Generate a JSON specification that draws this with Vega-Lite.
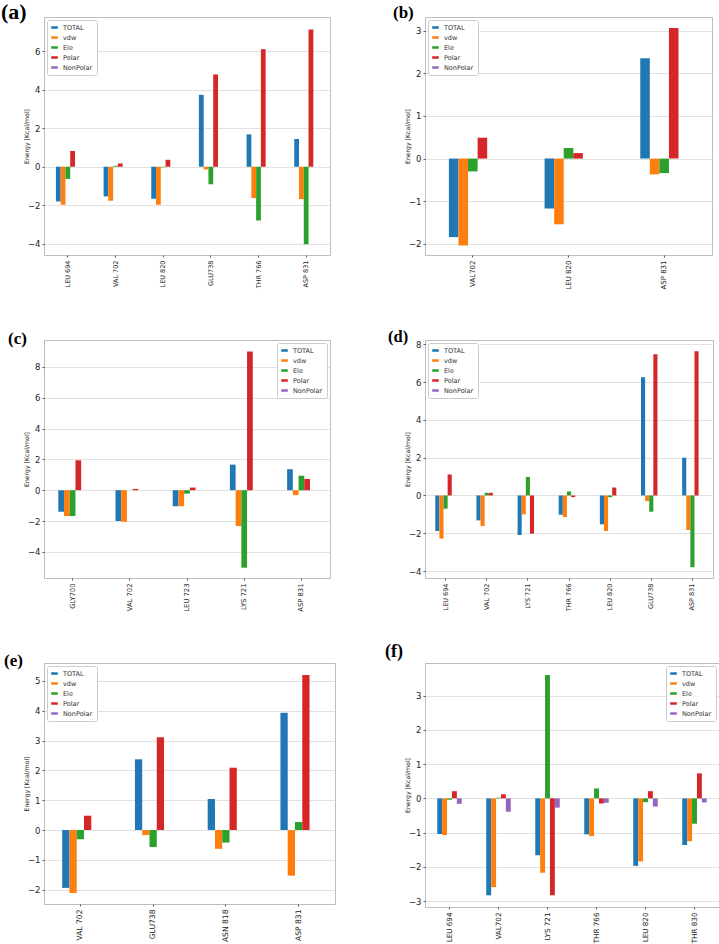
{
  "$schema": "https://vega.github.io/schema/vega-lite/v6.json",
  "background": "white",
  "padding": 0,
  "datasets": {
    "a": [
      {"residue": "LEU 694", "term": "TOTAL", "energy": -1.80},
      {"residue": "LEU 694", "term": "vdw", "energy": -1.97},
      {"residue": "LEU 694", "term": "Ele", "energy": -0.63},
      {"residue": "LEU 694", "term": "Polar", "energy": 0.82},
      {"residue": "LEU 694", "term": "NonPolar", "energy": 0},
      {"residue": "VAL 702", "term": "TOTAL", "energy": -1.54},
      {"residue": "VAL 702", "term": "vdw", "energy": -1.76},
      {"residue": "VAL 702", "term": "Ele", "energy": 0.05},
      {"residue": "VAL 702", "term": "Polar", "energy": 0.17},
      {"residue": "VAL 702", "term": "NonPolar", "energy": 0},
      {"residue": "LEU  820", "term": "TOTAL", "energy": -1.66},
      {"residue": "LEU  820", "term": "vdw", "energy": -1.97},
      {"residue": "LEU  820", "term": "Ele", "energy": -0.03},
      {"residue": "LEU  820", "term": "Polar", "energy": 0.36},
      {"residue": "LEU  820", "term": "NonPolar", "energy": 0},
      {"residue": "GLU738", "term": "TOTAL", "energy": 3.73},
      {"residue": "GLU738", "term": "vdw", "energy": -0.14},
      {"residue": "GLU738", "term": "Ele", "energy": -0.91},
      {"residue": "GLU738", "term": "Polar", "energy": 4.79},
      {"residue": "GLU738", "term": "NonPolar", "energy": 0},
      {"residue": "THR 766", "term": "TOTAL", "energy": 1.68},
      {"residue": "THR 766", "term": "vdw", "energy": -1.63},
      {"residue": "THR 766", "term": "Ele", "energy": -2.79},
      {"residue": "THR 766", "term": "Polar", "energy": 6.10},
      {"residue": "THR 766", "term": "NonPolar", "energy": 0},
      {"residue": "ASP  831", "term": "TOTAL", "energy": 1.44},
      {"residue": "ASP  831", "term": "vdw", "energy": -1.68},
      {"residue": "ASP  831", "term": "Ele", "energy": -4.02},
      {"residue": "ASP  831", "term": "Polar", "energy": 7.12},
      {"residue": "ASP  831", "term": "NonPolar", "energy": 0}
    ],
    "b": [
      {"residue": "VAL702", "term": "TOTAL", "energy": -1.84},
      {"residue": "VAL702", "term": "vdw", "energy": -2.04},
      {"residue": "VAL702", "term": "Ele", "energy": -0.30},
      {"residue": "VAL702", "term": "Polar", "energy": 0.49},
      {"residue": "VAL702", "term": "NonPolar", "energy": 0},
      {"residue": "LEU  820", "term": "TOTAL", "energy": -1.17},
      {"residue": "LEU  820", "term": "vdw", "energy": -1.54},
      {"residue": "LEU  820", "term": "Ele", "energy": 0.25},
      {"residue": "LEU  820", "term": "Polar", "energy": 0.13},
      {"residue": "LEU  820", "term": "NonPolar", "energy": 0},
      {"residue": "ASP  831", "term": "TOTAL", "energy": 2.35},
      {"residue": "ASP  831", "term": "vdw", "energy": -0.37},
      {"residue": "ASP  831", "term": "Ele", "energy": -0.34},
      {"residue": "ASP  831", "term": "Polar", "energy": 3.06},
      {"residue": "ASP  831", "term": "NonPolar", "energy": 0}
    ],
    "c": [
      {"residue": "GLY700", "term": "TOTAL", "energy": -1.40},
      {"residue": "GLY700", "term": "vdw", "energy": -1.68},
      {"residue": "GLY700", "term": "Ele", "energy": -1.68},
      {"residue": "GLY700", "term": "Polar", "energy": 1.94},
      {"residue": "GLY700", "term": "NonPolar", "energy": 0},
      {"residue": "VAL 702", "term": "TOTAL", "energy": -2.00},
      {"residue": "VAL 702", "term": "vdw", "energy": -2.05},
      {"residue": "VAL 702", "term": "Ele", "energy": 0},
      {"residue": "VAL 702", "term": "Polar", "energy": 0.08},
      {"residue": "VAL 702", "term": "NonPolar", "energy": 0},
      {"residue": "LEU 723", "term": "TOTAL", "energy": -1.04},
      {"residue": "LEU 723", "term": "vdw", "energy": -1.04},
      {"residue": "LEU 723", "term": "Ele", "energy": -0.22},
      {"residue": "LEU 723", "term": "Polar", "energy": 0.17},
      {"residue": "LEU 723", "term": "NonPolar", "energy": 0},
      {"residue": "LYS 721", "term": "TOTAL", "energy": 1.66},
      {"residue": "LYS 721", "term": "vdw", "energy": -2.33},
      {"residue": "LYS 721", "term": "Ele", "energy": -5.03},
      {"residue": "LYS 721", "term": "Polar", "energy": 9.00},
      {"residue": "LYS 721", "term": "NonPolar", "energy": 0},
      {"residue": "ASP  831", "term": "TOTAL", "energy": 1.36},
      {"residue": "ASP  831", "term": "vdw", "energy": -0.32},
      {"residue": "ASP  831", "term": "Ele", "energy": 0.93},
      {"residue": "ASP  831", "term": "Polar", "energy": 0.73},
      {"residue": "ASP  831", "term": "NonPolar", "energy": 0}
    ],
    "d": [
      {"residue": "LEU 694", "term": "TOTAL", "energy": -1.88},
      {"residue": "LEU 694", "term": "vdw", "energy": -2.28},
      {"residue": "LEU 694", "term": "Ele", "energy": -0.70},
      {"residue": "LEU 694", "term": "Polar", "energy": 1.11},
      {"residue": "LEU 694", "term": "NonPolar", "energy": 0},
      {"residue": "VAL 702", "term": "TOTAL", "energy": -1.32},
      {"residue": "VAL 702", "term": "vdw", "energy": -1.62},
      {"residue": "VAL 702", "term": "Ele", "energy": 0.14},
      {"residue": "VAL 702", "term": "Polar", "energy": 0.14},
      {"residue": "VAL 702", "term": "NonPolar", "energy": 0},
      {"residue": "LYS 721", "term": "TOTAL", "energy": -2.09},
      {"residue": "LYS 721", "term": "vdw", "energy": -1.00},
      {"residue": "LYS 721", "term": "Ele", "energy": 0.98},
      {"residue": "LYS 721", "term": "Polar", "energy": -2.02},
      {"residue": "LYS 721", "term": "NonPolar", "energy": 0},
      {"residue": "THR 766", "term": "TOTAL", "energy": -1.02},
      {"residue": "THR 766", "term": "vdw", "energy": -1.14},
      {"residue": "THR 766", "term": "Ele", "energy": 0.21},
      {"residue": "THR 766", "term": "Polar", "energy": -0.09},
      {"residue": "THR 766", "term": "NonPolar", "energy": 0},
      {"residue": "LEU  820", "term": "TOTAL", "energy": -1.53},
      {"residue": "LEU  820", "term": "vdw", "energy": -1.88},
      {"residue": "LEU  820", "term": "Ele", "energy": -0.09},
      {"residue": "LEU  820", "term": "Polar", "energy": 0.42},
      {"residue": "LEU  820", "term": "NonPolar", "energy": 0},
      {"residue": "GLU738", "term": "TOTAL", "energy": 6.26},
      {"residue": "GLU738", "term": "vdw", "energy": -0.30},
      {"residue": "GLU738", "term": "Ele", "energy": -0.86},
      {"residue": "GLU738", "term": "Polar", "energy": 7.47},
      {"residue": "GLU738", "term": "NonPolar", "energy": 0},
      {"residue": "ASP  831", "term": "TOTAL", "energy": 2.00},
      {"residue": "ASP  831", "term": "vdw", "energy": -1.83},
      {"residue": "ASP  831", "term": "Ele", "energy": -3.80},
      {"residue": "ASP  831", "term": "Polar", "energy": 7.63},
      {"residue": "ASP  831", "term": "NonPolar", "energy": 0}
    ],
    "e": [
      {"residue": "VAL 702", "term": "TOTAL", "energy": -1.94},
      {"residue": "VAL 702", "term": "vdw", "energy": -2.11},
      {"residue": "VAL 702", "term": "Ele", "energy": -0.31},
      {"residue": "VAL 702", "term": "Polar", "energy": 0.48},
      {"residue": "VAL 702", "term": "NonPolar", "energy": 0},
      {"residue": "GLU738", "term": "TOTAL", "energy": 2.37},
      {"residue": "GLU738", "term": "vdw", "energy": -0.17},
      {"residue": "GLU738", "term": "Ele", "energy": -0.57},
      {"residue": "GLU738", "term": "Polar", "energy": 3.11},
      {"residue": "GLU738", "term": "NonPolar", "energy": 0},
      {"residue": "ASN  818", "term": "TOTAL", "energy": 1.04},
      {"residue": "ASN  818", "term": "vdw", "energy": -0.63},
      {"residue": "ASN  818", "term": "Ele", "energy": -0.42},
      {"residue": "ASN  818", "term": "Polar", "energy": 2.09},
      {"residue": "ASN  818", "term": "NonPolar", "energy": 0},
      {"residue": "ASP  831", "term": "TOTAL", "energy": 3.93},
      {"residue": "ASP  831", "term": "vdw", "energy": -1.53},
      {"residue": "ASP  831", "term": "Ele", "energy": 0.27},
      {"residue": "ASP  831", "term": "Polar", "energy": 5.20},
      {"residue": "ASP  831", "term": "NonPolar", "energy": 0}
    ],
    "f": [
      {"residue": "LEU 694", "term": "TOTAL", "energy": -1.04},
      {"residue": "LEU 694", "term": "vdw", "energy": -1.07},
      {"residue": "LEU 694", "term": "Ele", "energy": -0.04},
      {"residue": "LEU 694", "term": "Polar", "energy": 0.21},
      {"residue": "LEU 694", "term": "NonPolar", "energy": -0.16},
      {"residue": "VAL702", "term": "TOTAL", "energy": -2.83},
      {"residue": "VAL702", "term": "vdw", "energy": -2.59},
      {"residue": "VAL702", "term": "Ele", "energy": 0.02},
      {"residue": "VAL702", "term": "Polar", "energy": 0.12},
      {"residue": "VAL702", "term": "NonPolar", "energy": -0.39},
      {"residue": "LYS 721", "term": "TOTAL", "energy": -1.66},
      {"residue": "LYS 721", "term": "vdw", "energy": -2.17},
      {"residue": "LYS 721", "term": "Ele", "energy": 3.60},
      {"residue": "LYS 721", "term": "Polar", "energy": -2.83},
      {"residue": "LYS 721", "term": "NonPolar", "energy": -0.27},
      {"residue": "THR  766", "term": "TOTAL", "energy": -1.05},
      {"residue": "THR  766", "term": "vdw", "energy": -1.10},
      {"residue": "THR  766", "term": "Ele", "energy": 0.29},
      {"residue": "THR  766", "term": "Polar", "energy": -0.15},
      {"residue": "THR  766", "term": "NonPolar", "energy": -0.13},
      {"residue": "LEU 820", "term": "TOTAL", "energy": -1.97},
      {"residue": "LEU 820", "term": "vdw", "energy": -1.84},
      {"residue": "LEU 820", "term": "Ele", "energy": -0.11},
      {"residue": "LEU 820", "term": "Polar", "energy": 0.21},
      {"residue": "LEU 820", "term": "NonPolar", "energy": -0.24},
      {"residue": "THR  830", "term": "TOTAL", "energy": -1.36},
      {"residue": "THR  830", "term": "vdw", "energy": -1.25},
      {"residue": "THR  830", "term": "Ele", "energy": -0.74},
      {"residue": "THR  830", "term": "Polar", "energy": 0.73},
      {"residue": "THR  830", "term": "NonPolar", "energy": -0.12}
    ]
  },
  "resolve": {"scale": {"color": "independent", "xOffset": "independent"}},
  "columns": 2,
  "bounds": "flush",
  "align": "each",
  "spacing": {"row": 85, "column": 90},
  "concat": [
    {
      "title": {"text": "(a)", "dx": -43, "fontSize": 22, "offset": -7},
      "width": 286,
      "height": 238,
      "data": {"name": "a"},
      "mark": {"type": "bar"},
      "encoding": {
        "x": {"field": "residue", "type": "nominal", "sort": null, "scale": {"paddingInner": 0.5, "paddingOuter": 0.25}, "axis": {"labelFontSize": 6.5}},
        "xOffset": {"field": "term", "type": "nominal", "sort": null, "scale": {"domain": ["TOTAL", "vdw", "Ele", "Polar", "NonPolar"], "paddingInner": 0, "paddingOuter": 0}},
        "y": {"field": "energy", "type": "quantitative", "scale": {"domain": [-4.58, 7.77], "nice": false, "zero": false}, "axis": {"values": [-4, -2, 0, 2, 4, 6], "title": "Energy [Kcal/mol]"}},
        "color": {"field": "term", "type": "nominal", "scale": {"domain": ["TOTAL", "vdw", "Ele", "Polar", "NonPolar"], "range": ["#1f77b4", "#ff7f0e", "#2ca02c", "#d62728", "#9467bd"]}, "legend": {"orient": "top-left"}}
      }
    },
    {
      "title": {"text": "(b)", "dx": -32, "fontSize": 17, "offset": -4.6},
      "width": 287,
      "height": 238,
      "data": {"name": "b"},
      "mark": {"type": "bar"},
      "encoding": {
        "x": {"field": "residue", "type": "nominal", "sort": null, "scale": {"paddingInner": 0.5, "paddingOuter": 0.25}, "axis": {"labelFontSize": 7}},
        "xOffset": {"field": "term", "type": "nominal", "sort": null, "scale": {"domain": ["TOTAL", "vdw", "Ele", "Polar", "NonPolar"], "paddingInner": 0, "paddingOuter": 0}},
        "y": {"field": "energy", "type": "quantitative", "scale": {"domain": [-2.26, 3.32], "nice": false, "zero": false}, "axis": {"values": [-2, -1, 0, 1, 2, 3], "title": "Energy [Kcal/mol]"}},
        "color": {"field": "term", "type": "nominal", "scale": {"domain": ["TOTAL", "vdw", "Ele", "Polar", "NonPolar"], "range": ["#1f77b4", "#ff7f0e", "#2ca02c", "#d62728", "#9467bd"]}, "legend": {"orient": "top-left"}}
      }
    },
    {
      "title": {"text": "(c)", "dx": -36, "fontSize": 17, "offset": -7.6},
      "width": 286,
      "height": 238,
      "data": {"name": "c"},
      "mark": {"type": "bar"},
      "encoding": {
        "x": {"field": "residue", "type": "nominal", "sort": null, "scale": {"paddingInner": 0.5, "paddingOuter": 0.25}, "axis": {"labelFontSize": 6.8}},
        "xOffset": {"field": "term", "type": "nominal", "sort": null, "scale": {"domain": ["TOTAL", "vdw", "Ele", "Polar", "NonPolar"], "paddingInner": 0, "paddingOuter": 0}},
        "y": {"field": "energy", "type": "quantitative", "scale": {"domain": [-5.7, 9.75], "nice": false, "zero": false}, "axis": {"values": [-4, -2, 0, 2, 4, 6, 8], "title": "Energy [Kcal/mol]"}},
        "color": {"field": "term", "type": "nominal", "scale": {"domain": ["TOTAL", "vdw", "Ele", "Polar", "NonPolar"], "range": ["#1f77b4", "#ff7f0e", "#2ca02c", "#d62728", "#9467bd"]}, "legend": {"orient": "top-right"}}
      }
    },
    {
      "title": {"text": "(d)", "dx": -37, "fontSize": 16.5, "offset": -5.5},
      "width": 288,
      "height": 238,
      "data": {"name": "d"},
      "mark": {"type": "bar"},
      "encoding": {
        "x": {"field": "residue", "type": "nominal", "sort": null, "scale": {"paddingInner": 0.5, "paddingOuter": 0.25}, "axis": {"labelFontSize": 6.5}},
        "xOffset": {"field": "term", "type": "nominal", "sort": null, "scale": {"domain": ["TOTAL", "vdw", "Ele", "Polar", "NonPolar"], "paddingInner": 0, "paddingOuter": 0}},
        "y": {"field": "energy", "type": "quantitative", "scale": {"domain": [-4.37, 8.23], "nice": false, "zero": false}, "axis": {"values": [-4, -2, 0, 2, 4, 6, 8], "title": "Energy [Kcal/mol]"}},
        "color": {"field": "term", "type": "nominal", "scale": {"domain": ["TOTAL", "vdw", "Ele", "Polar", "NonPolar"], "range": ["#1f77b4", "#ff7f0e", "#2ca02c", "#d62728", "#9467bd"]}, "legend": {"orient": "top-left"}}
      }
    },
    {
      "title": {"text": "(e)", "dx": -40, "fontSize": 17, "offset": -6.6},
      "width": 291,
      "height": 241,
      "data": {"name": "e"},
      "mark": {"type": "bar"},
      "encoding": {
        "x": {"field": "residue", "type": "nominal", "sort": null, "scale": {"paddingInner": 0.5, "paddingOuter": 0.25}, "axis": {"labelFontSize": 7.6}},
        "xOffset": {"field": "term", "type": "nominal", "sort": null, "scale": {"domain": ["TOTAL", "vdw", "Ele", "Polar", "NonPolar"], "paddingInner": 0, "paddingOuter": 0}},
        "y": {"field": "energy", "type": "quantitative", "scale": {"domain": [-2.48, 5.6], "nice": false, "zero": false}, "axis": {"values": [-2, -1, 0, 1, 2, 3, 4, 5], "title": "Energy [Kcal/mol]"}},
        "color": {"field": "term", "type": "nominal", "scale": {"domain": ["TOTAL", "vdw", "Ele", "Polar", "NonPolar"], "range": ["#1f77b4", "#ff7f0e", "#2ca02c", "#d62728", "#9467bd"]}, "legend": {"orient": "top-left"}}
      }
    },
    {
      "title": {"text": "(f)", "dx": -40, "fontSize": 18, "offset": 2.2},
      "width": 294,
      "height": 244,
      "data": {"name": "f"},
      "mark": {"type": "bar"},
      "encoding": {
        "x": {"field": "residue", "type": "nominal", "sort": null, "scale": {"paddingInner": 0.5, "paddingOuter": 0.25}, "axis": {"labelFontSize": 7.2}},
        "xOffset": {"field": "term", "type": "nominal", "sort": null, "scale": {"domain": ["TOTAL", "vdw", "Ele", "Polar", "NonPolar"], "paddingInner": 0, "paddingOuter": 0}},
        "y": {"field": "energy", "type": "quantitative", "scale": {"domain": [-3.17, 3.95], "nice": false, "zero": false}, "axis": {"values": [-3, -2, -1, 0, 1, 2, 3], "title": "Energy [Kcal/mol]"}},
        "color": {"field": "term", "type": "nominal", "scale": {"domain": ["TOTAL", "vdw", "Ele", "Polar", "NonPolar"], "range": ["#1f77b4", "#ff7f0e", "#2ca02c", "#d62728", "#9467bd"]}, "legend": {"orient": "top-right"}}
      }
    }
  ],
  "config": {
    "view": {"stroke": "#bdbdbd", "strokeWidth": 1},
    "title": {"font": "Liberation Serif", "fontWeight": "bold", "anchor": "start", "frame": "group", "baseline": "bottom", "color": "black"},
    "axis": {"labelFont": "DejaVu Sans", "titleFont": "DejaVu Sans", "labelColor": "#222222", "titleColor": "#222222", "gridColor": "#d9d9d9", "gridWidth": 0.8, "domain": false, "tickSize": 2, "tickColor": "#555555"},
    "axisY": {"labelFontSize": 8.5, "labelPadding": 2, "minExtent": 12, "maxExtent": 12, "titleFontSize": 6.2, "titleFontWeight": "normal", "titlePadding": 3, "labelExpr": "replace(datum.label, '-', '−')"},
    "axisX": {"labelAngle": 270, "labelPadding": 3, "title": null, "bandPosition": 0.5},
    "legend": {"title": null, "offset": 3, "padding": 4, "strokeColor": "#cccccc", "fillColor": "white", "cornerRadius": 2, "labelFont": "DejaVu Sans", "labelFontSize": 6.5, "labelColor": "#333333", "symbolType": "M-1,-0.38L1,-0.38L1,0.38L-1,0.38Z", "symbolSize": 44, "symbolStrokeWidth": 0, "symbolOpacity": 1, "rowPadding": 3, "labelOffset": 5}
  }
}
